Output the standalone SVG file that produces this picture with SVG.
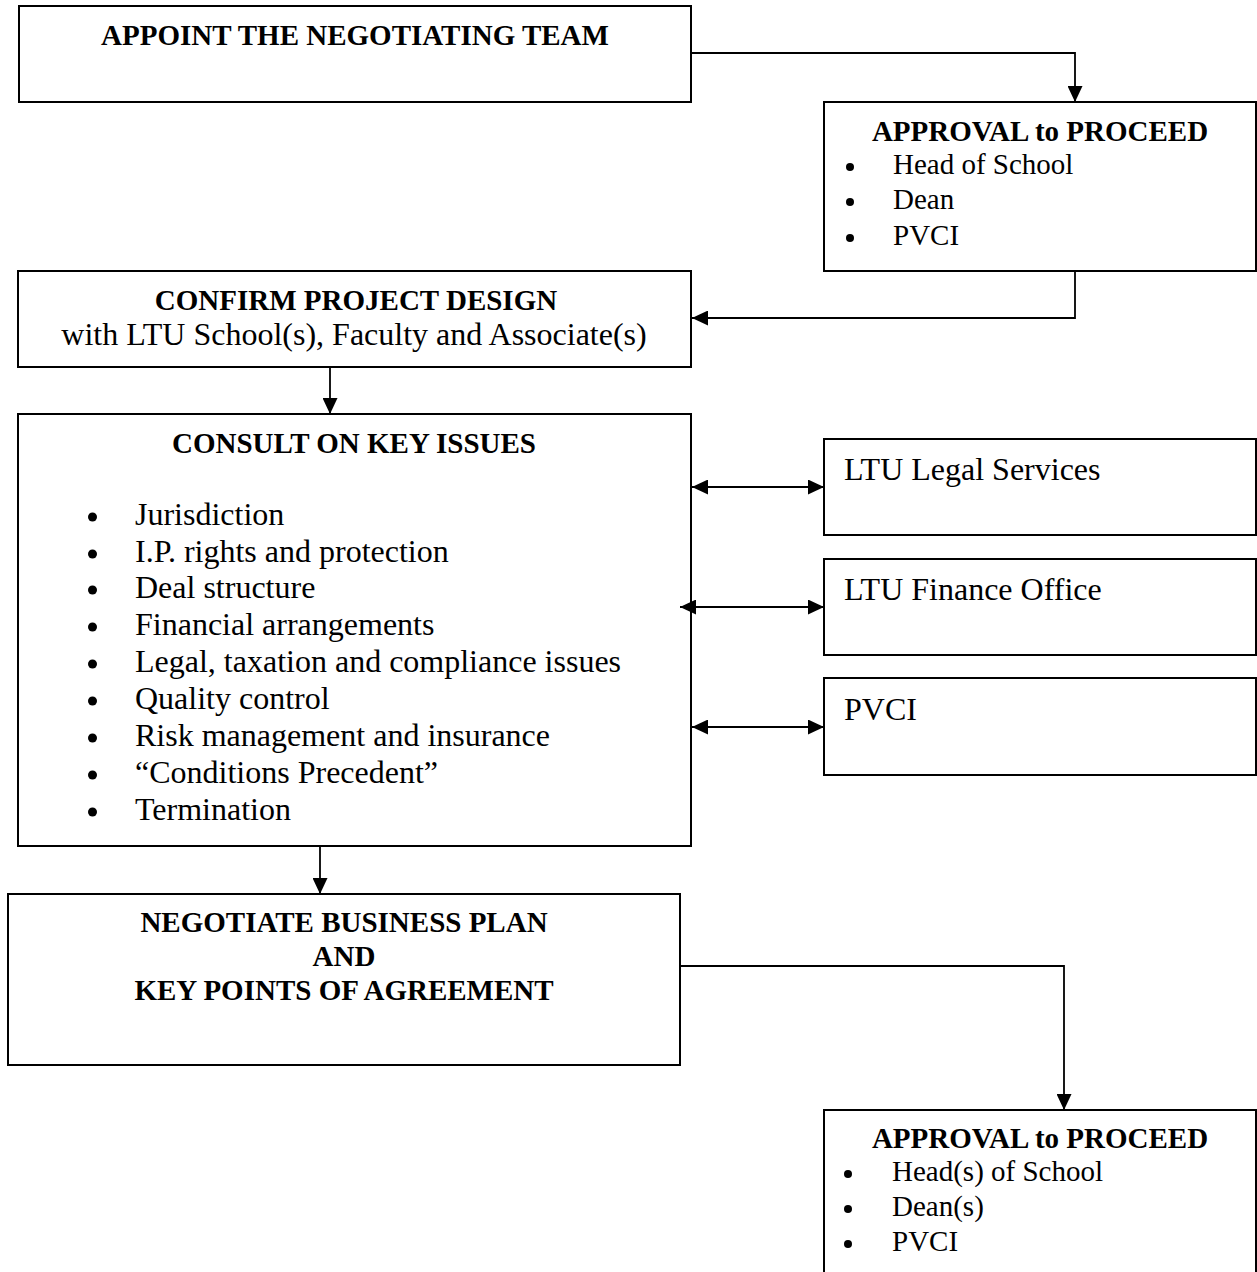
<svg xmlns="http://www.w3.org/2000/svg" width="1257" height="1272" viewBox="0 0 1257 1272">
<style>
.box{fill:#fff;stroke:#000;stroke-width:2}
.h{font-family:"Liberation Serif","Times New Roman",serif;font-weight:bold;font-size:29px;fill:#000}
.t{font-family:"Liberation Serif","Times New Roman",serif;font-size:32px;fill:#000}
.s{font-family:"Liberation Serif","Times New Roman",serif;font-size:29px;fill:#000}
.c{text-anchor:middle}
.b{fill:#000}
.con{fill:none;stroke:#000;stroke-width:1.8}
</style>
<defs>
<marker id="ah" viewBox="0 0 16 15" refX="16" refY="7.5" markerWidth="16" markerHeight="15" markerUnits="userSpaceOnUse" orient="auto-start-reverse">
<path d="M0,0 L16,7.5 L0,15 Z" fill="#000"/>
</marker>
</defs>
<rect width="1257" height="1272" fill="#fff"/>
<g id="appoint">
<rect class="box" x="19" y="6" width="672" height="96"/>
<text class="h c" x="355" y="45">APPOINT THE NEGOTIATING TEAM</text>
</g>
<g id="approval1">
<rect class="box" x="824" y="102" width="432" height="169"/>
<text class="h c" x="1040" y="141">APPROVAL to PROCEED</text>
<circle class="b" cx="850" cy="167" r="4"/><text class="s" x="893" y="174">Head of School</text>
<circle class="b" cx="850" cy="202" r="4"/><text class="s" x="893" y="209">Dean</text>
<circle class="b" cx="850" cy="238" r="4"/><text class="s" x="893" y="245">PVCI</text>
</g>
<g id="confirm">
<rect class="box" x="18" y="271" width="673" height="96"/>
<text class="h c" x="356" y="310">CONFIRM PROJECT DESIGN</text>
<text class="t c" x="354" y="345">with LTU School(s), Faculty and Associate(s)</text>
</g>
<g id="consult">
<rect class="box" x="18" y="414" width="673" height="432"/>
<text class="h c" x="354" y="453">CONSULT ON KEY ISSUES</text>
<circle class="b" cx="92.5" cy="517" r="4.5"/><text class="t" x="135" y="525">Jurisdiction</text>
<circle class="b" cx="92.5" cy="554" r="4.5"/><text class="t" x="135" y="562">I.P. rights and protection</text>
<circle class="b" cx="92.5" cy="590" r="4.5"/><text class="t" x="135" y="598">Deal structure</text>
<circle class="b" cx="92.5" cy="627" r="4.5"/><text class="t" x="135" y="635">Financial arrangements</text>
<circle class="b" cx="92.5" cy="664" r="4.5"/><text class="t" x="135" y="672">Legal, taxation and compliance issues</text>
<circle class="b" cx="92.5" cy="701" r="4.5"/><text class="t" x="135" y="709">Quality control</text>
<circle class="b" cx="92.5" cy="738" r="4.5"/><text class="t" x="135" y="746">Risk management and insurance</text>
<circle class="b" cx="92.5" cy="775" r="4.5"/><text class="t" x="135" y="783">“Conditions Precedent”</text>
<circle class="b" cx="92.5" cy="812" r="4.5"/><text class="t" x="135" y="820">Termination</text>
</g>
<g id="legal">
<rect class="box" x="824" y="439" width="432" height="96"/>
<text class="t" x="844" y="480">LTU Legal Services</text>
</g>
<g id="finance">
<rect class="box" x="824" y="559" width="432" height="96"/>
<text class="t" x="844" y="600">LTU Finance Office</text>
</g>
<g id="pvci">
<rect class="box" x="824" y="678" width="432" height="97"/>
<text class="t" x="844" y="720">PVCI</text>
</g>
<g id="negotiate">
<rect class="box" x="8" y="894" width="672" height="171"/>
<text class="h c" x="344" y="932">NEGOTIATE BUSINESS PLAN</text>
<text class="h c" x="344" y="966">AND</text>
<text class="h c" x="344" y="1000">KEY POINTS OF AGREEMENT</text>
</g>
<g id="approval2">
<rect class="box" x="824" y="1110" width="432" height="180"/>
<text class="h c" x="1040" y="1148">APPROVAL to PROCEED</text>
<circle class="b" cx="848" cy="1174" r="4"/><text class="s" x="892" y="1181">Head(s) of School</text>
<circle class="b" cx="848" cy="1209" r="4"/><text class="s" x="892" y="1216">Dean(s)</text>
<circle class="b" cx="848" cy="1244" r="4"/><text class="s" x="892" y="1251">PVCI</text>
</g>
<g id="connectors">
<path class="con" d="M691,53 H1075 V102" marker-end="url(#ah)"/>
<path class="con" d="M1075,271 V318 H692" marker-end="url(#ah)"/>
<path class="con" d="M330,367 V414" marker-end="url(#ah)"/>
<path class="con" d="M692,487 H824" marker-start="url(#ah)" marker-end="url(#ah)"/>
<path class="con" d="M680,607 H824" marker-start="url(#ah)" marker-end="url(#ah)"/>
<path class="con" d="M692,727 H824" marker-start="url(#ah)" marker-end="url(#ah)"/>
<path class="con" d="M320,846 V894" marker-end="url(#ah)"/>
<path class="con" d="M680,966 H1064 V1110" marker-end="url(#ah)"/>
</g>
</svg>
